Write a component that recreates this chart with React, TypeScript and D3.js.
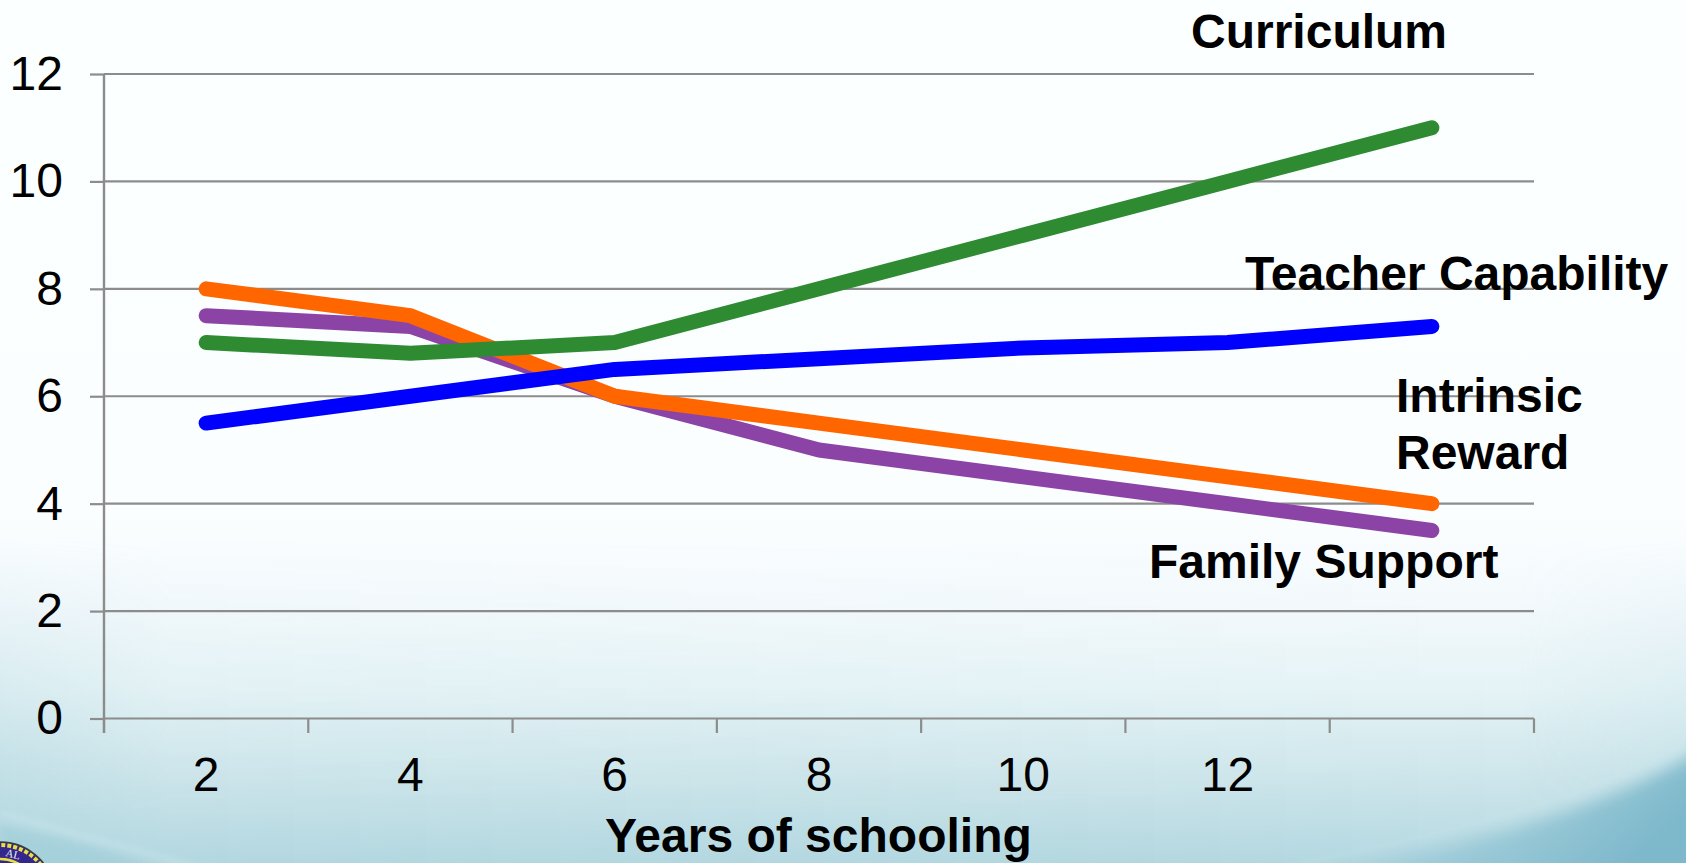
import React, { useEffect, useRef } from "react";
import * as d3 from "d3";

const W = 1686;
const H = 863;

const categories = ["2", "4", "6", "8", "10", "12", "14"];
const categoryLabels = ["2", "4", "6", "8", "10", "12", ""];
const yTicks = [0, 2, 4, 6, 8, 10, 12];

const familySupport = [7.5, 7.3, 6, 5, 4.5, 4, 3.5];
const intrinsicReward = [8, 7.5, 6, 5.5, 5, 4.5, 4];
const curriculum = [7, 6.8, 7, 8, 9, 10, 11];
const teacherCapability = [5.5, 6, 6.5, 6.7, 6.9, 7, 7.3];

const seriesNames = ["Family Support", "Intrinsic Reward", "Curriculum", "Teacher Capability"];
const seriesValues = [familySupport, intrinsicReward, curriculum, teacherCapability];
const seriesColors = ["#8B44A6", "#FF6600", "#2E8B32", "#0000FF"];

const FONT = "'Liberation Sans', Arial, sans-serif";

export default function App() {
  const ref = useRef<SVGSVGElement | null>(null);

  useEffect(() => {
    const svg = d3.select(ref.current!);
    svg.selectAll("*").remove();

    const defs = svg.append("defs");
    const bg = defs.append("linearGradient").attr("id", "bg").attr("x1", 0).attr("y1", 0).attr("x2", 0).attr("y2", 1);
    [
      [0, "#FBFFFF"],
      [0.6, "#FBFEFF"],
      [0.7, "#F3F9FC"],
      [0.8, "#E5F3F6"],
      [0.9, "#CEE6EB"],
      [1, "#B4D8E1"],
    ].forEach(([o, c]) => bg.append("stop").attr("offset", o as number).attr("stop-color", c as string));

    const edge = defs.append("linearGradient").attr("id", "edge").attr("x1", 0).attr("y1", 0).attr("x2", 1).attr("y2", 0);
    [
      [0, "#A9D3DD", 0.4],
      [0.1, "#A9D3DD", 0.08],
      [0.9, "#A9D3DD", 0],
      [1, "#A9D3DD", 0.25],
    ].forEach(([o, c, a]) =>
      edge.append("stop").attr("offset", o as number).attr("stop-color", c as string).attr("stop-opacity", a as number)
    );
    const edgeFade = defs.append("linearGradient").attr("id", "edgeFade").attr("x1", 0).attr("y1", 0).attr("x2", 0).attr("y2", 1);
    edgeFade.append("stop").attr("offset", 0.62).attr("stop-color", "#fff").attr("stop-opacity", 0);
    edgeFade.append("stop").attr("offset", 0.95).attr("stop-color", "#fff").attr("stop-opacity", 1);
    defs.append("mask").attr("id", "edgeMask").append("rect").attr("width", W).attr("height", H).attr("fill", "url(#edgeFade)");

    const wave = defs.append("linearGradient").attr("id", "wave").attr("x1", 0).attr("y1", 0).attr("x2", 1).attr("y2", 0.3);
    wave.append("stop").attr("offset", 0).attr("stop-color", "#A8D2DD").attr("stop-opacity", 0);
    wave.append("stop").attr("offset", 1).attr("stop-color", "#7DB8CB").attr("stop-opacity", 1);

    defs.append("filter").attr("id", "soft").append("feGaussianBlur").attr("stdDeviation", 8);
    defs.append("filter").attr("id", "softer").append("feGaussianBlur").attr("stdDeviation", 3);

    svg.append("rect").attr("width", W).attr("height", H).attr("fill", "url(#bg)");
    svg.append("rect").attr("width", W).attr("height", H).attr("fill", "url(#edge)").attr("mask", "url(#edgeMask)");
    svg
      .append("path")
      .attr("d", "M1250,885 C1420,855 1580,825 1710,745 L1710,885 Z")
      .attr("fill", "url(#wave)")
      .attr("filter", "url(#soft)");
    svg
      .append("path")
      .attr("d", "M1300,863 C1440,835 1580,800 1686,745")
      .attr("fill", "none")
      .attr("stroke", "#D6ECF2")
      .attr("stroke-width", 3)
      .attr("opacity", 0.25)
      .attr("filter", "url(#softer)");
    svg
      .append("path")
      .attr("d", "M0,813 C60,830 130,848 205,870")
      .attr("fill", "none")
      .attr("stroke", "#DDF0F4")
      .attr("stroke-width", 4)
      .attr("opacity", 0.35)
      .attr("filter", "url(#softer)");
    svg
      .append("path")
      .attr("d", "M0,825 C50,835 110,850 160,870 L0,870 Z")
      .attr("fill", "#8FC6D3")
      .attr("opacity", 0.35)
      .attr("filter", "url(#softer)");

    // seal in the lower-left corner
    const seal = svg.append("g");
    seal.append("circle").attr("cx", 0).attr("cy", 897).attr("r", 55).attr("fill", "#33268C").attr("stroke", "#3A3A3A").attr("stroke-width", 1.5);
    seal
      .append("circle")
      .attr("cx", 0)
      .attr("cy", 897)
      .attr("r", 52)
      .attr("fill", "none")
      .attr("stroke", "#E8DF40")
      .attr("stroke-width", 4)
      .attr("stroke-dasharray", "4 2");
    seal
      .append("circle")
      .attr("cx", 0)
      .attr("cy", 897)
      .attr("r", 38)
      .attr("fill", "none")
      .attr("stroke", "#E8DF40")
      .attr("stroke-width", 2.5);
    seal
      .append("text")
      .attr("transform", "translate(5,856) rotate(14)")
      .attr("font-family", "'Liberation Serif', serif")
      .attr("font-size", 11)
      .attr("fill", "#F0F0F0")
      .text("AL");

    const x = d3.scaleBand<string>().domain(categories).range([104, 1534]);
    const y = d3.scaleLinear().domain([0, 12]).range([718.5, 74]);

    const GRAY = "#8C8C8C";

    const yAxis = svg
      .append("g")
      .attr("transform", "translate(104,0)")
      .call(
        d3
          .axisLeft(y)
          .tickValues(yTicks)
          .tickSize(14)
          .tickPadding(27)
      );
    yAxis.select(".domain").attr("stroke", GRAY).attr("stroke-width", 2.4).attr("d", "M0,74V733");
    yAxis.selectAll(".tick line").attr("stroke", GRAY).attr("stroke-width", 2.2);

    // gridlines
    svg
      .append("g")
      .selectAll("line")
      .data(yTicks)
      .join("line")
      .attr("x1", 104)
      .attr("x2", 1534)
      .attr("y1", (d) => y(d))
      .attr("y2", (d) => y(d))
      .attr("stroke", GRAY)
      .attr("stroke-width", 2.2);

    const xAxis = svg
      .append("g")
      .attr("transform", "translate(0,718.5)")
      .call(d3.axisBottom(x).tickFormat((_, i) => categoryLabels[i]).tickSize(0).tickPadding(38));
    xAxis.select(".domain").remove();
    xAxis.selectAll(".tick line").remove();

    // tick marks sit on the band edges
    const edges = [...categories.map((c) => x(c)!), x.range()[1]];
    svg
      .append("g")
      .selectAll("line")
      .data(edges)
      .join("line")
      .attr("x1", (d) => d)
      .attr("x2", (d) => d)
      .attr("y1", 718.5)
      .attr("y2", 733)
      .attr("stroke", GRAY)
      .attr("stroke-width", 2.2);

    svg
      .selectAll(".tick text")
      .attr("font-family", FONT)
      .attr("font-size", 48)
      .attr("fill", "#000");
    yAxis.selectAll(".tick text").attr("dy", "0.32em");
    xAxis.selectAll(".tick text").attr("dy", "0.71em");

    const line = d3
      .line<number>()
      .x((_, i) => x(categories[i])! + x.bandwidth() / 2)
      .y((d) => y(d));

    svg
      .append("g")
      .selectAll("path")
      .data(seriesValues)
      .join("path")
      .attr("d", (d) => line(d))
      .attr("fill", "none")
      .attr("stroke", (_, i) => seriesColors[i])
      .attr("stroke-width", 15)
      .attr("stroke-linecap", "round")
      .attr("stroke-linejoin", "round");

    const labels: [string, number, number][] = [
      ["Curriculum", 1191, 48],
      ["Teacher Capability", 1245, 290],
      ["Intrinsic", 1396, 412],
      ["Reward", 1396, 469],
      ["Family Support", 1149, 578],
      ["Years of schooling", 605, 852],
    ];
    svg
      .append("g")
      .selectAll("text")
      .data(labels)
      .join("text")
      .attr("x", (d) => d[1])
      .attr("y", (d) => d[2])
      .attr("font-family", FONT)
      .attr("font-weight", 700)
      .attr("font-size", 48)
      .attr("fill", "#000")
      .text((d) => d[0]);
  }, []);

  return (
    <svg
      ref={ref}
      width={W}
      height={H}
      viewBox={`0 0 ${W} ${H}`}
      style={{ position: "absolute", left: 0, top: 0, display: "block" }}
    />
  );
}
